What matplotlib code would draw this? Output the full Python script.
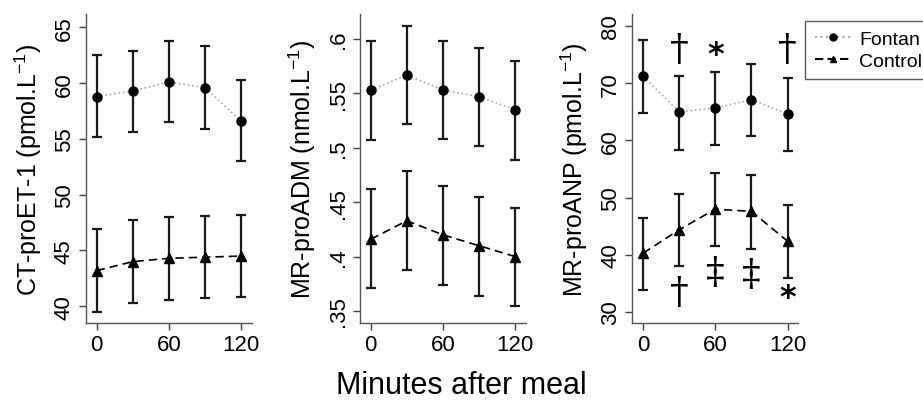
import numpy as np
import matplotlib.pyplot as plt

plt.rcParams["font.family"] = ["Liberation Sans", "DejaVu Sans"]

# Tockovni casi (minute po obroku)
minutes = [0, 30, 60, 90, 120]

# CT-proET-1
et_fontan = [58.8, 59.3, 60.1, 59.6, 56.6]
et_fontan_lo = [55.2, 55.6, 56.5, 55.9, 53.0]
et_fontan_hi = [62.5, 62.9, 63.8, 63.3, 60.3]
et_control = [43.2, 44.0, 44.3, 44.4, 44.5]
et_control_lo = [39.5, 40.3, 40.6, 40.7, 40.8]
et_control_hi = [46.9, 47.7, 48.0, 48.1, 48.2]

# MR-proADM
adm_fontan = [0.553, 0.567, 0.553, 0.547, 0.535]
adm_fontan_lo = [0.507, 0.522, 0.508, 0.502, 0.489]
adm_fontan_hi = [0.598, 0.612, 0.598, 0.592, 0.580]
adm_control = [0.416, 0.433, 0.420, 0.410, 0.400]
adm_control_lo = [0.371, 0.388, 0.374, 0.364, 0.355]
adm_control_hi = [0.462, 0.479, 0.465, 0.455, 0.445]

# MR-proANP
anp_fontan = [71.2, 65.0, 65.7, 67.1, 64.7]
anp_fontan_lo = [64.8, 58.4, 59.2, 60.7, 58.2]
anp_fontan_hi = [77.5, 71.2, 72.0, 73.4, 71.0]
anp_control = [40.3, 44.4, 48.0, 47.6, 42.4]
anp_control_lo = [33.9, 38.0, 41.6, 41.1, 36.0]
anp_control_hi = [46.5, 50.7, 54.3, 54.0, 48.7]

# Oznake znacilnosti (cas, vrednost, simbol)
anp_marks_x = [30, 60, 120, 30, 60, 90, 120]
anp_marks_y = [76.0, 75.0, 76.0, 33.5, 37.0, 36.7, 32.6]
anp_marks_txt = ["\u2020", "*", "\u2020", "\u2020", "\u2021", "\u2021", "*"]

panels = [
    dict(title="CT-proET-1 (pmol.L$^{\\mathregular{-1}}$)",
         f=et_fontan, flo=et_fontan_lo, fhi=et_fontan_hi,
         c=et_control, clo=et_control_lo, chi=et_control_hi,
         ylim=(38.5, 66.2), yticks=[40, 45, 50, 55, 60, 65],
         ylabels=["40", "45", "50", "55", "60", "65"]),
    dict(title="MR-proADM (nmol.L$^{\\mathregular{-1}}$)",
         f=adm_fontan, flo=adm_fontan_lo, fhi=adm_fontan_hi,
         c=adm_control, clo=adm_control_lo, chi=adm_control_hi,
         ylim=(0.339, 0.623), yticks=[0.35, 0.4, 0.45, 0.5, 0.55, 0.6],
         ylabels=[".35", ".4", ".45", ".5", ".55", ".6"]),
    dict(title="MR-proANP (pmol.L$^{\\mathregular{-1}}$)",
         f=anp_fontan, flo=anp_fontan_lo, fhi=anp_fontan_hi,
         c=anp_control, clo=anp_control_lo, chi=anp_control_hi,
         ylim=(28.1, 82.1), yticks=[30, 40, 50, 60, 70, 80],
         ylabels=["30", "40", "50", "60", "70", "80"]),
]

fig = plt.figure(figsize=(9.23, 4.06), dpi=100)
lefts = [0.093, 0.390, 0.685]
axes = [fig.add_axes([l, 0.202, 0.180, 0.761]) for l in lefts]

x = np.array(minutes)
for ax, p in zip(axes, panels):
    for key, lo, hi, ls, col, mk in [("f", "flo", "fhi", ":", "#aaaaaa", "o"),
                                    ("c", "clo", "chi", (0, (5, 3)), "black", "^")]:
        y = np.array(p[key])
        err = [y - np.array(p[lo]), np.array(p[hi]) - y]
        ax.errorbar(x, y, yerr=err, fmt="none", ecolor="#1a1a1a",
                    elinewidth=1.6, capsize=3.5, capthick=1.6, zorder=2)
        ax.plot(x, y, linestyle=ls, color=col, linewidth=1.2, zorder=3)
        ax.plot(x, y, linestyle="none", marker=mk, color="black",
                markersize=6.5, zorder=4)
    ax.set_xlim(-9, 129)
    ax.set_ylim(*p["ylim"])
    ax.set_xticks([0, 60, 120])
    ax.set_yticks(p["yticks"])
    ax.set_yticklabels(p["ylabels"], rotation=90, va="center")
    ax.tick_params(labelsize=16, length=5, width=1, color="#444444", pad=3)
    ax.set_ylabel(p["title"], fontsize=18, labelpad=7)
    for s in ["top", "right"]:
        ax.spines[s].set_visible(False)
    for s in ["left", "bottom"]:
        ax.spines[s].set_color("#555555")
        ax.spines[s].set_linewidth(1)

# Oznake v tretjem panelu: bodala v serifni pisavi, zvezdice v sans
for mx, my, mt in zip(anp_marks_x, anp_marks_y, anp_marks_txt):
    if mt == "*":
        axes[2].text(mx, my, mt, fontsize=23, fontweight="bold",
                     ha="center", va="center", family=["DejaVu Sans"])
    else:
        axes[2].text(mx, my, mt, fontsize=27, ha="center", va="center",
                     family=["DejaVu Serif"])

# Legenda
h1, = axes[2].plot([], [], linestyle=":", color="#aaaaaa", marker="o",
                   markerfacecolor="black", markeredgecolor="black", markersize=5)
h2, = axes[2].plot([], [], linestyle=(0, (4, 2)), color="black", marker="^",
                   markersize=5)
fig.legend([h1, h2], ["Fontan", "Control"], loc="upper left",
           bbox_to_anchor=(0.872, 0.946), fontsize=14, frameon=True,
           fancybox=False, edgecolor="#333333", handlelength=1.85,
           borderpad=0.5, labelspacing=0.2, handletextpad=0.45,
           borderaxespad=0)

fig.text(0.5, 0.012, "Minutes after meal", ha="center", va="bottom", fontsize=22)

fig.savefig("out.png", dpi=100)
